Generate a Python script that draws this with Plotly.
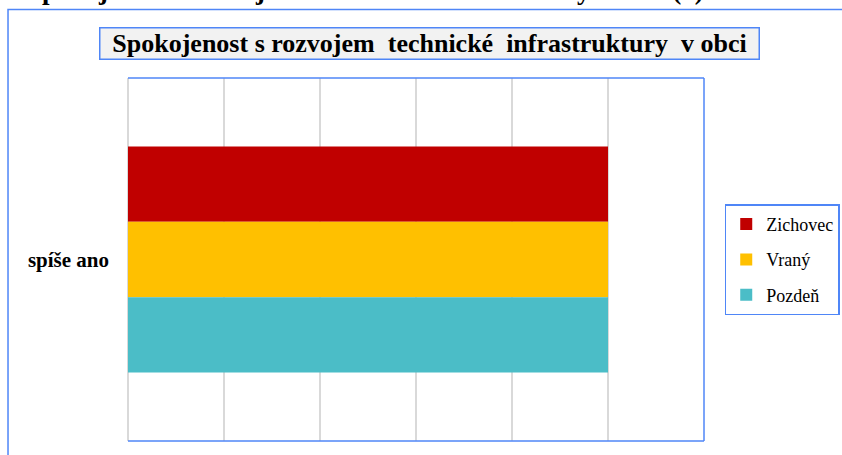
import plotly.graph_objects as go

# data
kategorie = ["spíše ano"]
obce = ["Zichovec", "Vraný", "Pozdeň"]
hodnoty = {
    "Zichovec": [100],
    "Vraný": [100],
    "Pozdeň": [100],
}
barvy = {"Zichovec": "#C00000", "Vraný": "#FFC000", "Pozdeň": "#4BBDC7"}

nadpis = "Spokojenost s rozvojem  technické  infrastruktury  v obci"
horni_text = "Spokojenost s rozvojem technické infrastruktury v obci (1)"

modra = "#4F86F7"
serif = "Liberation Serif"

fig = go.Figure()
for obec in obce:
    fig.add_trace(go.Bar(
        name=obec, y=kategorie, x=hodnoty[obec], orientation="h",
        marker=dict(color=barvy[obec], line=dict(width=0)),
        legendgroup=obec,
    ))

fig.update_layout(
    width=842, height=455,
    margin=dict(l=128, r=138, t=78, b=14, autoexpand=False),
    paper_bgcolor="white", plot_bgcolor="white",
    barmode="group", bargap=0.377, bargroupgap=0,
    font=dict(family=serif, color="black"),
    showlegend=True,
    legend=dict(
        x=1.036, y=0.652, xanchor="left", yanchor="top",
        traceorder="grouped", tracegroupgap=9,
        bordercolor=modra, borderwidth=1.5, bgcolor="white",
        font=dict(family=serif, size=18, color="black"),
    ),
)

fig.update_xaxes(
    range=[0, 120], dtick=20, showticklabels=False,
    showgrid=True, gridcolor="#D9D9D9", gridwidth=1.5,
    zeroline=True, zerolinecolor="#D9D9D9", zerolinewidth=1.5,
    showline=False, fixedrange=True,
)
fig.update_yaxes(
    autorange="reversed",
    showgrid=False, showline=False, zeroline=False,
    tickfont=dict(family=serif, size=21, color="black"),
    ticklabelstandoff=18, fixedrange=True,
    tickvals=kategorie, ticktext=["<b>" + k + "</b>" for k in kategorie],
)

# plot area border (top, right, bottom)
for x0, y0, x1, y1 in [(0, 1, 1, 1), (1, 0, 1, 1), (0, 0, 1, 0)]:
    fig.add_shape(type="line", xref="paper", yref="paper", x0=x0, y0=y0, x1=x1, y1=y1,
                  line=dict(color=modra, width=1.5))

# outer chart frame
fig.add_shape(type="rect", xref="paper", yref="paper",
              x0=-0.2083, y0=-0.06, x1=1.26, y1=1.1887,
              line=dict(color=modra, width=1.5), layer="below")

fig.add_annotation(
    text="<b>" + nadpis + "</b>", xref="paper", yref="paper",
    x=0.524, y=1.094, xanchor="center", yanchor="middle", showarrow=False,
    font=dict(family=serif, size=26, color="black"),
    width=658, height=30, align="center",
    bgcolor="#F2F2F2", bordercolor=modra, borderwidth=1.5, borderpad=0,
)

fig.add_annotation(
    text="<b>" + horni_text + "</b>", xref="paper", yref="paper",
    x=1.003, y=1.195, xanchor="right", yanchor="bottom", showarrow=False,
    font=dict(family=serif, size=27, color="black"),
)

# the page body has a default 8px margin; drop it so the chart sits at the corner
fig.write_html("out.html", config={"displayModeBar": False},
               post_script="document.body.style.margin = '0';")
